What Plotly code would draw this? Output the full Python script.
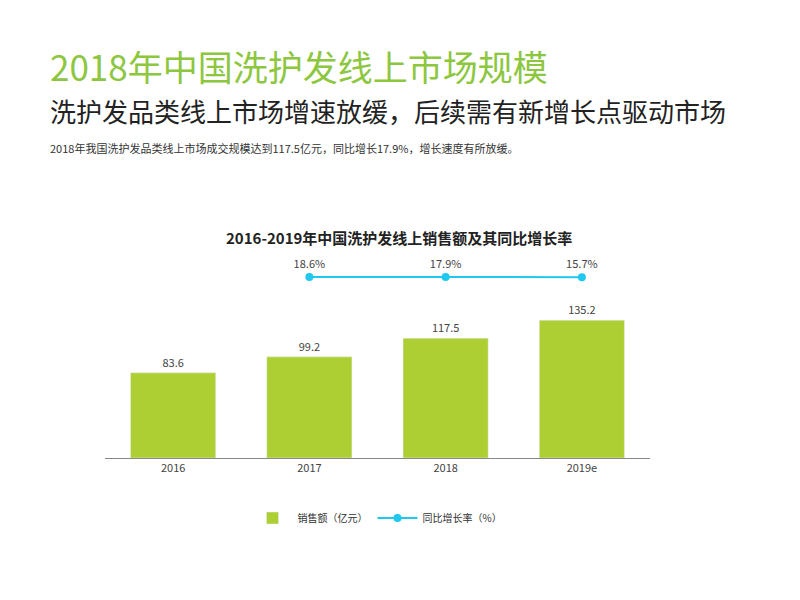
import plotly.graph_objects as go

years = ["2016", "2017", "2018", "2019e"]
sales = [83.6, 99.2, 117.5, 135.2]
rate_years = ["2017", "2018", "2019e"]
rates = [18.6, 17.9, 15.7]

# pixel -> paper helper (plot area spans y 242..450 in figure pixels)
def py(p):
    return (450 - p) / 208

fig = go.Figure()
fig.add_trace(go.Bar(
    x=years, y=sales, name="销售额（亿元）",
    marker_color="#AECF34",
    text=[f"{v:.1f}" for v in sales], textposition="outside",
    textfont=dict(size=11, color="#444"), cliponaxis=False,
))
fig.add_trace(go.Scatter(
    x=rate_years, y=rates, name="同比增长率（%）", yaxis="y2",
    mode="lines+markers+text",
    line=dict(color="#1EC8EE", width=2), marker=dict(size=8, color="#1EC8EE"),
    text=[f"{v}%" for v in rates], textposition="top center",
    textfont=dict(size=11, color="#444"), cliponaxis=False,
))

fig.update_layout(
    width=800, height=600,
    margin=dict(l=97, r=158, t=242, b=150),
    paper_bgcolor="white", plot_bgcolor="white",
    font=dict(family="Noto Sans CJK SC", color="#333"),
    bargap=0.375, showlegend=True,
    legend=dict(orientation="h", x=0.5, xanchor="center", y=py(510), yanchor="middle",
                font=dict(size=10), itemwidth=40),
    xaxis=dict(showline=True, linecolor="#888", tickfont=dict(size=11, color="#444"), ticks=""),
    yaxis=dict(range=[0, 204], visible=False),
    yaxis2=dict(range=[-2593, 407], overlaying="y", visible=False),
    annotations=[
        dict(text="2018年中国洗护发线上市场规模", x=-57 / 545, y=py(57), xref="paper", yref="paper",
             xanchor="left", yanchor="middle", showarrow=False,
             font=dict(size=35, color="#8DC63F")),
        dict(text="洗护发品类线上市场增速放缓，后续需有新增长点驱动市场", x=-57 / 545, y=py(102),
             xref="paper", yref="paper", xanchor="left", yanchor="middle", showarrow=False,
             font=dict(size=26, color="#222")),
        dict(text="2018年我国洗护发品类线上市场成交规模达到117.5亿元，同比增长17.9%，增长速度有所放缓。",
             x=-57 / 545, y=py(140), xref="paper", yref="paper", xanchor="left", yanchor="middle",
             showarrow=False, font=dict(size=11, color="#333")),
        dict(text="<b>2016-2019年中国洗护发线上销售额及其同比增长率</b>", x=0.54, y=py(229),
             xref="paper", yref="paper", xanchor="center", yanchor="middle", showarrow=False,
             font=dict(size=15, color="#222")),
    ],
)

fig.write_html("out.html")
